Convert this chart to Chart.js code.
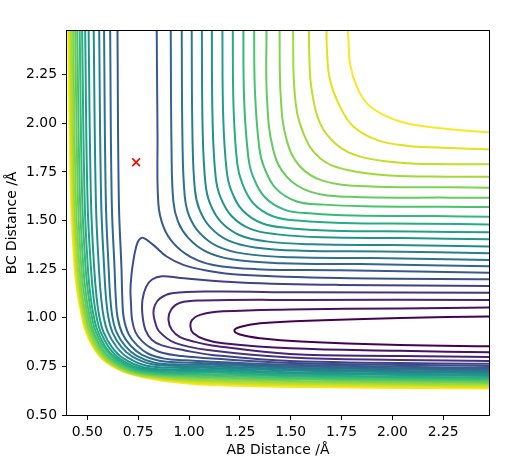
<!DOCTYPE html>
<html>
<head>
<meta charset="utf-8">
<script src="https://cdn.jsdelivr.net/npm/chart.js@4.4.0/dist/chart.umd.min.js"></script>
<style>
html, body { margin: 0; padding: 0; background: #fff; }
</style>
</head>
<body>
<canvas id="pesChart" width="530" height="471"></canvas>
<script>
// axis ticks
const xTicks = [0.5, 0.75, 1.0, 1.25, 1.5, 1.75, 2.0, 2.25];
const yTicks = [0.5, 0.75, 1.0, 1.25, 1.5, 1.75, 2.0, 2.25];

// red cross (AB, BC)
const startPoint = [0.74, 1.80];

// contour lines, [AB, BC] pairs, lowest level first
const lvl01 = [[2.5,1.007],[2.04,0.999],[1.55,0.984],[1.35,0.972],[1.25,0.953],[1.223,0.934],[1.25,0.914],[1.35,0.895],[1.55,0.878],[2.04,0.860],[2.5,0.853]];
const lvl02 = [[2.5,1.053],[2.037,1.048],[1.497,1.043],[1.167,1.033],[1.054,1.015],[1.015,0.989],[1.007,0.955],[1.020,0.922],[1.079,0.888],[1.167,0.869],[1.497,0.843],[2.037,0.830],[2.5,0.822]];
const lvl03 = [[2.5,1.092],[1.546,1.092],[1.064,1.089],[0.956,1.077],[0.911,1.040],[0.899,0.989],[0.916,0.937],[0.956,0.901],[1.029,0.876],[1.113,0.858],[1.497,0.814],[2.037,0.804],[2.5,0.798]];
const lvl04 = [[2.5,1.129],[1.546,1.131],[1.113,1.135],[0.916,1.126],[0.857,1.100],[0.833,1.066],[0.825,1.025],[0.833,0.979],[0.853,0.930],[0.931,0.871],[1.113,0.832],[1.497,0.796],[2.037,0.783],[2.5,0.778]];
const lvl05 = [[2.5,1.164],[1.742,1.169],[1.251,1.182],[0.956,1.205],[0.867,1.213],[0.818,1.197],[0.789,1.159],[0.771,1.092],[0.771,1.015],[0.786,0.937],[0.818,0.886],[0.867,0.858],[0.980,0.832],[1.113,0.809],[1.497,0.778],[2.5,0.763]];
const lvl06 = [[2.5,1.198],[1.742,1.204],[1.251,1.221],[1.087,1.243],[0.972,1.272],[0.890,1.315],[0.824,1.375],[0.775,1.411],[0.754,1.401],[0.739,1.360],[0.727,1.298],[0.717,1.221],[0.712,1.143],[0.715,1.066],[0.720,0.989],[0.737,0.925],[0.769,0.880],[0.808,0.848],[0.867,0.820],[0.966,0.803],[1.113,0.790],[1.497,0.768],[2.5,0.752]];

// levels 7-22: "a" = upper right branch, "b" = repulsive wall branch
const lvl07a = [[0.841,2.5],[0.845,1.95],[0.849,1.59],[0.874,1.469],[0.923,1.384],[1.005,1.315],[1.119,1.272],[1.333,1.250],[1.742,1.244],[2.5,1.231]];
const lvl08a = [[0.910,2.5],[0.914,1.865],[0.923,1.597],[0.946,1.494],[0.995,1.412],[1.079,1.343],[1.210,1.301],[1.451,1.281],[1.844,1.276],[2.5,1.265]];
const lvl09a = [[0.964,2.5],[0.968,1.897],[0.979,1.626],[1.001,1.523],[1.052,1.437],[1.138,1.369],[1.270,1.330],[1.505,1.311],[1.898,1.307],[2.5,1.297]];
const lvl10a = [[1.013,2.5],[1.017,1.932],[1.029,1.658],[1.052,1.555],[1.104,1.466],[1.192,1.398],[1.324,1.362],[1.554,1.345],[1.947,1.341],[2.5,1.332]];
const lvl11a = [[1.063,2.5],[1.067,1.966],[1.081,1.689],[1.104,1.586],[1.157,1.493],[1.247,1.426],[1.380,1.393],[1.604,1.378],[1.997,1.374],[2.5,1.366]];
const lvl12a = [[1.112,2.5],[1.116,2.004],[1.131,1.725],[1.154,1.622],[1.208,1.525],[1.302,1.457],[1.434,1.429],[1.653,1.414],[2.046,1.410],[2.5,1.404]];
const lvl13a = [[1.164,2.5],[1.168,2.039],[1.185,1.757],[1.208,1.654],[1.263,1.553],[1.359,1.486],[1.492,1.461],[1.705,1.448],[2.098,1.444],[2.5,1.439]];
const lvl14a = [[1.215,2.5],[1.219,2.08],[1.237,1.795],[1.261,1.692],[1.317,1.588],[1.415,1.521],[1.548,1.499],[1.756,1.488],[2.149,1.484],[2.5,1.480]];
const lvl15a = [[1.267,2.5],[1.271,2.12],[1.291,1.832],[1.314,1.729],[1.372,1.621],[1.472,1.555],[1.606,1.536],[1.808,1.526],[2.201,1.523],[2.5,1.520]];
const lvl16a = [[1.320,2.5],[1.324,2.169],[1.345,1.878],[1.369,1.775],[1.428,1.664],[1.530,1.598],[1.664,1.582],[1.861,1.574],[2.254,1.571],[2.5,1.569]];
const lvl17a = [[1.381,2.5],[1.383,2.138],[1.414,1.864],[1.480,1.726],[1.595,1.649],[1.791,1.622],[2.283,1.618],[2.5,1.618]];
const lvl18a = [[1.445,2.5],[1.451,2.138],[1.480,1.915],[1.546,1.778],[1.660,1.704],[1.874,1.676],[2.283,1.671],[2.5,1.669]];
const lvl19a = [[1.511,2.5],[1.521,2.138],[1.562,1.950],[1.644,1.821],[1.775,1.761],[1.988,1.732],[2.283,1.726],[2.5,1.725]];
const lvl20a = [[1.590,2.5],[1.592,2.327],[1.603,2.173],[1.644,2.001],[1.726,1.890],[1.841,1.829],[2.037,1.798],[2.283,1.790],[2.5,1.789]];
const lvl21a = [[1.676,2.5],[1.678,2.379],[1.693,2.224],[1.742,2.087],[1.808,1.984],[1.923,1.915],[2.070,1.885],[2.283,1.873],[2.5,1.866]];
const lvl22a = [[1.779,2.5],[1.784,2.430],[1.791,2.310],[1.824,2.190],[1.874,2.104],[1.955,2.044],[2.070,2.001],[2.283,1.970],[2.5,1.952]];

const lvl07b = [[0.648,2.5],[0.655,1.6],[0.668,1.25],[0.672,1.1],[0.679,1.0],[0.703,0.916],[0.745,0.858],[0.800,0.815],[0.880,0.790],[0.980,0.781],[1.113,0.774],[1.546,0.757],[2.5,0.742]];
const lvl08b = [[0.612,2.5],[0.620,1.6],[0.634,1.25],[0.640,1.1],[0.649,1.0],[0.672,0.919],[0.713,0.856],[0.769,0.809],[0.853,0.779],[0.967,0.770],[1.113,0.766],[1.546,0.749],[2.5,0.735]];
const lvl09b = [[0.582,2.5],[0.591,1.6],[0.605,1.25],[0.613,1.1],[0.624,1.0],[0.645,0.922],[0.687,0.854],[0.743,0.804],[0.831,0.769],[0.956,0.760],[1.113,0.758],[1.546,0.742],[2.5,0.728]];
const lvl10b = [[0.558,2.5],[0.568,1.6],[0.583,1.25],[0.592,1.1],[0.604,1.0],[0.624,0.924],[0.666,0.852],[0.722,0.800],[0.813,0.762],[0.946,0.752],[1.113,0.750],[1.546,0.734],[2.5,0.721]];
const lvl11b = [[0.531,2.5],[0.542,1.6],[0.557,1.25],[0.568,1.1],[0.581,1.0],[0.601,0.926],[0.643,0.851],[0.699,0.795],[0.793,0.753],[0.935,0.743],[1.113,0.742],[1.546,0.727],[2.5,0.714]];
const lvl12b = [[0.506,2.5],[0.518,1.6],[0.534,1.25],[0.546,1.1],[0.560,1.0],[0.579,0.928],[0.621,0.849],[0.677,0.791],[0.775,0.746],[0.925,0.734],[1.113,0.734],[1.546,0.719],[2.5,0.707]];
const lvl13b = [[0.489,2.5],[0.501,1.6],[0.518,1.25],[0.531,1.1],[0.546,1.0],[0.564,0.930],[0.606,0.848],[0.662,0.788],[0.762,0.740],[0.917,0.727],[1.113,0.726],[1.546,0.712],[2.5,0.700]];
const lvl14b = [[0.474,2.5],[0.487,1.6],[0.503,1.25],[0.517,1.1],[0.533,1.0],[0.551,0.931],[0.592,0.847],[0.649,0.786],[0.751,0.736],[0.909,0.720],[1.113,0.718],[1.546,0.704],[2.5,0.692]];
const lvl15b = [[0.462,2.5],[0.475,1.6],[0.492,1.25],[0.507,1.1],[0.523,1.0],[0.540,0.932],[0.582,0.847],[0.639,0.784],[0.742,0.732],[0.902,0.714],[1.113,0.710],[1.546,0.697],[2.5,0.685]];
const lvl16b = [[0.450,2.5],[0.464,1.6],[0.481,1.25],[0.496,1.1],[0.513,1.0],[0.529,0.933],[0.571,0.846],[0.628,0.782],[0.733,0.728],[0.895,0.708],[1.113,0.702],[1.546,0.689],[2.5,0.678]];
const lvl17b = [[0.440,2.5],[0.454,1.6],[0.471,1.25],[0.487,1.1],[0.504,1.0],[0.521,0.934],[0.563,0.845],[0.619,0.780],[0.726,0.725],[0.889,0.703],[1.113,0.694],[1.546,0.682],[2.5,0.671]];
const lvl18b = [[0.430,2.5],[0.444,1.6],[0.462,1.25],[0.478,1.1],[0.496,1.0],[0.512,0.935],[0.554,0.845],[0.611,0.778],[0.719,0.722],[0.882,0.697],[1.113,0.686],[1.546,0.674],[2.5,0.664]];
const lvl19b = [[0.422,2.5],[0.436,1.6],[0.454,1.25],[0.471,1.1],[0.489,1.0],[0.505,0.936],[0.547,0.844],[0.604,0.777],[0.713,0.719],[0.876,0.692],[1.113,0.678],[1.546,0.667],[2.5,0.657]];
const lvl20b = [[0.415,2.5],[0.430,1.6],[0.447,1.25],[0.465,1.1],[0.483,1.0],[0.499,0.936],[0.541,0.844],[0.598,0.776],[0.707,0.717],[0.870,0.687],[1.113,0.670],[1.546,0.659],[2.5,0.650]];
const lvl21b = [[0.410,2.5],[0.425,1.6],[0.443,1.25],[0.461,1.1],[0.479,1.0],[0.495,0.937],[0.536,0.843],[0.593,0.775],[0.704,0.716],[0.865,0.683],[1.113,0.662],[1.546,0.652],[2.5,0.643]];
const lvl22b = [[0.405,2.5],[0.420,1.6],[0.438,1.25],[0.456,1.1],[0.475,1.0],[0.490,0.937],[0.532,0.843],[0.589,0.774],[0.700,0.714],[0.860,0.678],[1.113,0.654],[1.546,0.644],[2.5,0.636]];

const contourLevels = [
    [lvl01], [lvl02], [lvl03], [lvl04], [lvl05], [lvl06],
    [lvl07a, lvl07b], [lvl08a, lvl08b], [lvl09a, lvl09b], [lvl10a, lvl10b],
    [lvl11a, lvl11b], [lvl12a, lvl12b], [lvl13a, lvl13b], [lvl14a, lvl14b],
    [lvl15a, lvl15b], [lvl16a, lvl16b], [lvl17a, lvl17b], [lvl18a, lvl18b],
    [lvl19a, lvl19b], [lvl20a, lvl20b], [lvl21a, lvl21b], [lvl22a, lvl22b]
];

// viridis, sampled every 0.05
const viridisStops = ['#440154','#471365','#482475','#463480','#414487','#3b528b','#355f8d','#2f6c8e','#2a788e','#25848e','#21918c','#1e9c89','#22a884','#2fb47c','#44bf70','#5ec962','#7ad151','#9bd93c','#bddf26','#dfe318','#fde725'];

function hexToRgb(h){
    return [parseInt(h.slice(1,3),16), parseInt(h.slice(3,5),16), parseInt(h.slice(5,7),16)];
}
function viridis(t){
    let p = t * (viridisStops.length - 1);
    let i = Math.min(viridisStops.length - 2, Math.floor(p));
    let f = p - i;
    let a = hexToRgb(viridisStops[i]), b = hexToRgb(viridisStops[i+1]);
    let c = a.map((v, k) => Math.round(v + (b[k] - v) * f));
    return `rgb(${c[0]},${c[1]},${c[2]})`;
}

const font = {family: 'DejaVu Sans', size: 13.9};

let datasets = [];
datasets.push({
    data: [{x: startPoint[0], y: startPoint[1]}],
    showLine: false,
    pointStyle: 'crossRot',
    pointRadius: 5.5,
    pointBorderColor: '#ff0000',
    pointBorderWidth: 1.5,
    order: 0
});
contourLevels.forEach((pieces, i) => {
    let col = viridis(i / (contourLevels.length - 1));
    pieces.forEach(p => {
        datasets.push({
            data: p.map(([x, y]) => ({x: x, y: y})),
            showLine: true,
            borderColor: col,
            borderWidth: 2,
            pointRadius: 0,
            tension: 0.4,
            clip: 0,
            order: 1
        });
    });
});

// matplotlib style box round the axes
const frame = {
    id: 'frame',
    afterDraw(chart){
        const {ctx, chartArea: a} = chart;
        ctx.save();
        ctx.strokeStyle = '#000';
        ctx.lineWidth = 1;
        ctx.strokeRect(Math.round(a.left) - 0.5, Math.round(a.top) - 0.5,
            Math.round(a.right - a.left) + 1, Math.round(a.bottom - a.top) + 1);
        ctx.restore();
    }
};

new Chart(document.getElementById('pesChart').getContext('2d'), {
    type: 'scatter',
    data: {datasets: datasets},
    options: {
        responsive: false,
        animation: false,
        layout: {padding: {left: 0, right: 41, top: 31, bottom: 0}},
        plugins: {legend: {display: false}, tooltip: {enabled: false}},
        scales: {
            x: {
                type: 'linear', min: 0.4, max: 2.475,
                afterBuildTicks: s => { s.ticks = xTicks.map(v => ({value: v})); },
                afterFit: s => { s.height = 56; },
                ticks: {callback: v => v.toFixed(2), color: '#000', font: font, padding: 4, maxRotation: 0, autoSkip: false},
                grid: {drawOnChartArea: false, drawTicks: true, tickLength: 5, tickColor: '#000', tickWidth: 1},
                border: {display: false},
                title: {display: true, text: 'AB Distance /Å', color: '#000', font: font, padding: {top: 0, bottom: 12}}
            },
            y: {
                type: 'linear', min: 0.5, max: 2.475,
                afterBuildTicks: s => { s.ticks = yTicks.map(v => ({value: v})); },
                afterFit: s => { s.width = 67; },
                ticks: {callback: v => v.toFixed(2), color: '#000', font: font, padding: 5, autoSkip: false},
                grid: {drawOnChartArea: false, drawTicks: true, tickLength: 5, tickColor: '#000', tickWidth: 1},
                border: {display: false},
                title: {display: true, text: 'BC Distance /Å', color: '#000', font: font, padding: {top: 4, bottom: 0}}
            }
        }
    },
    plugins: [frame]
});
</script>
</body>
</html>
